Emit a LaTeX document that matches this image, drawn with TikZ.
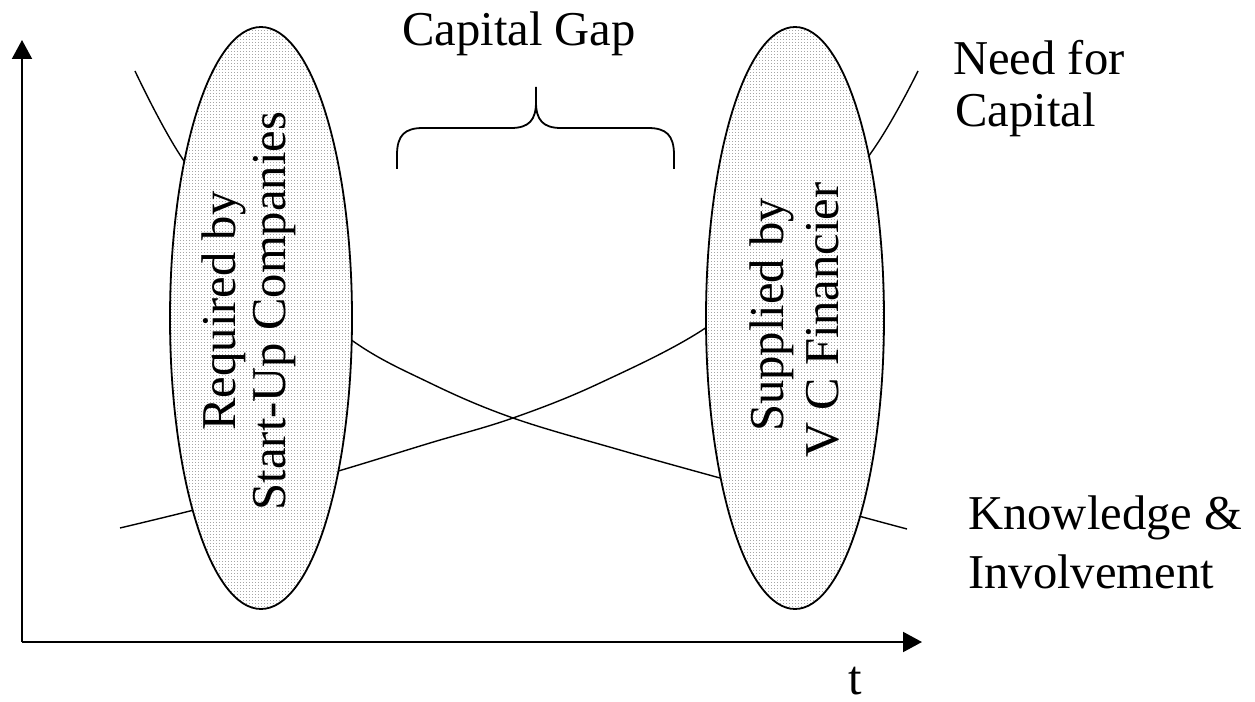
\documentclass[tikz,border=0pt]{standalone}
\usepackage{fontspec}
\setmainfont{Liberation Serif}
\usetikzlibrary{arrows.meta,shapes.geometric,patterns.meta}
\tikzdeclarepattern{
  name=finedots,
  type=uncolored,
  bottom left={(0bp,0bp)},
  top right={(3.3bp,3.3bp)},
  tile size={(3.3bp,3.3bp)},
  code={\fill (0bp,0bp) rectangle (1bp,1bp);}
}
\begin{document}
\begin{tikzpicture}[x=1bp,y=-1bp,
  axis/.style={line width=2bp,-{Triangle[length=19bp,width=20bp]}},
  curve/.style={line width=1.4bp},
  blob/.style={ellipse,draw,line width=1.8bp,inner sep=0pt,preaction={fill=white},pattern=finedots,pattern color=gray!70},
  lbl/.style={inner sep=0pt,font=\fontsize{48.8pt}{55pt}\selectfont},
  vlbl/.style={lbl,rotate=90,anchor=base},
  bracestyle/.style={line width=1.8bp}]
\useasboundingbox (0,0) rectangle (1255,702);
% axes
\coordinate (O) at (22,642);
\coordinate (ytop) at (22,40);
\coordinate (xend) at (922,642);
\draw[axis] (O) -- (ytop);
\draw[axis] (O) -- (xend);
% curves
\draw[curve] plot[smooth,tension=0.6] coordinates {(135,71) (182,158) (262,262) (350,339) (430,383) (513,418) (620,450) (720,478) (790,497) (855,515) (907,529)};
\draw[curve] plot[smooth,tension=0.6] coordinates {(120,528) (190,511) (262,492) (335,472) (430,443) (513,418) (600,383) (707,327) (790,255) (873,150) (918,71)};
% ellipses
\node[blob,minimum width=182bp,minimum height=582bp] (req) at (261,318) {};
\node[blob,minimum width=178bp,minimum height=582bp] (sup) at (795,318) {};
% rotated texts
\node[vlbl] (req1) at (235,311) {Required by};
\node[vlbl] (req2) at (285,311) {Start-Up Companies};
\node[vlbl] (sup1) at (783,315) {Supplied by};
\node[vlbl] (sup2) at (838,320) {V C Financier};
% brace
\draw[bracestyle] (397,169) -- (397,155) .. controls (397,135) and (405,128) .. (423,128) -- (511,128) .. controls (529,128) and (536,120) .. (536,102) -- (536,87);
\draw[bracestyle] (674,169) -- (674,155) .. controls (674,135) and (666,128) .. (648,128) -- (561,128) .. controls (543,128) and (536,120) .. (536,102);
% labels
\node[lbl,anchor=base west] (gap) at (402,46) {Capital Gap};
\node[lbl,anchor=base west] (need1) at (953,75) {Need for};
\node[lbl,anchor=base west] (need2) at (955,127) {Capital};
\node[lbl,anchor=base west] (know1) at (968,529) {Knowledge \&};
\node[lbl,anchor=base west] (know2) at (968,588) {Involvement};
\node[lbl,anchor=base] (t) at (855,694) {t};
\end{tikzpicture}
\end{document}
